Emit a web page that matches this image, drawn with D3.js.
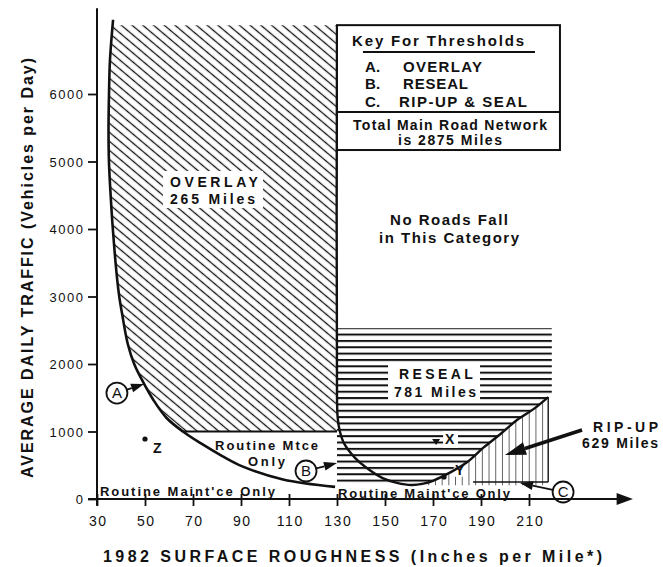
<!DOCTYPE html>
<html><head><meta charset="utf-8">
<script src="https://cdn.jsdelivr.net/npm/d3@7"></script>
<style>
body{margin:0;background:#fff}
svg{display:block}
text{font-family:"Liberation Sans",Arial,Helvetica,sans-serif;fill:#111}
</style>
</head><body>
<svg id="c" width="663" height="567"></svg>
<script>
// ---------- data ----------
const xTicks = [30, 50, 70, 90, 110, 130, 150, 170, 190, 210];
const yTicks = [0, 1000, 2000, 3000, 4000, 5000, 6000];
// Overlay threshold curve A (roughness, ADT)
const overlayCurve = [[36.7,7100],[35.4,6500],[35.0,6000],[34.8,5470],[35.0,4980],[35.8,4430],[36.6,4000],[38.3,3290],[39.3,2990],[40.4,2755],[42.8,2300],[45.5,2000],[49.4,1720],[53.5,1467],[59,1200],[65.8,1000],[73,830],[82,640],[90.8,480],[107.5,290],[129.2,180]];
// Reseal / rip-up threshold curve B-C
const resealCurve = [[130,7020],[130,1500],[130.3,1200],[131.2,1000],[133,820],[137.5,610],[142,470],[149,310],[155,240],[161,208],[166,228],[170,270],[177,390],[184,540],[191,760],[198,960],[205,1170],[212,1335],[218,1510]];
const ripStart = 9; // index where rising (rip-up) branch begins
const routineLevel = 1000;      // ADT boundary of overlay zone
const topADT = 7020;            // top of hatched area / key box
const resealTop = 2530;
const resealRight = 219.5;
const resealBottom = 250;
const ripBottom = 205;
const ripRight = 218;
const points = [{name:"Z", x:50, y:889}, {name:"Y", x:174.6, y:326}];
const xMarker = {x:171.3, y:815};
const keyTitle = "Key For Thresholds";
const keyItems = [["A.","OVERLAY",6326,79],["B.","RESEAL",6074,65],["C.","RIP-UP & SEAL",5807,128]];

// ---------- scales ----------
const sx = d3.scaleLinear().domain([30,130]).range([97,337]);
const sy = d3.scaleLinear().domain([0,6000]).range([499,94]);
const svg = d3.select("#c");
const defs = svg.append("defs");

// patterns
const pDiag = defs.append("pattern").attr("id","diag").attr("patternUnits","userSpaceOnUse")
  .attr("width",20).attr("height",6.9).attr("patternTransform","rotate(40)");
pDiag.append("line").attr("x1",0).attr("x2",20).attr("y1",3.45).attr("y2",3.45).attr("stroke","#111").attr("stroke-width",1.3);
const pH = defs.append("pattern").attr("id","horiz").attr("patternUnits","userSpaceOnUse")
  .attr("width",10).attr("height",6.35).attr("y",sy(resealTop)-1);
pH.append("line").attr("x1",0).attr("x2",10).attr("y1",1).attr("y2",1).attr("stroke","#111").attr("stroke-width",2);
const pV = defs.append("pattern").attr("id","vert").attr("patternUnits","userSpaceOnUse")
  .attr("width",6.7).attr("height",10).attr("x",sx(ripRight)+0.65);
pV.append("line").attr("x1",0).attr("x2",0).attr("y1",0).attr("y2",10).attr("stroke","#111").attr("stroke-width",1.3);

const line = d3.line().x(d=>sx(d[0])).y(d=>sy(d[1])).curve(d3.curveCatmullRom.alpha(0.5));
const P = (x,y)=>sx(x)+","+sy(y);

// ---------- overlay hatch ----------
defs.append("clipPath").attr("id","ovClip").append("rect")
  .attr("x",sx(30)).attr("y",sy(topADT)).attr("width",sx(130)-sx(30)).attr("height",sy(routineLevel)-sy(topADT));
svg.append("g").attr("clip-path","url(#ovClip)").append("path")
  .attr("d", line(overlayCurve)+"L"+P(130,180)+"L"+P(130,7200)+"Z")
  .attr("fill","url(#diag)");

// ---------- reseal hatch ----------
const rising = resealCurve.slice(ripStart);
const risingRev = rising.slice().reverse();
svg.append("path")
  .attr("d","M"+P(130,resealTop)+"L"+P(resealRight,resealTop)+"L"+P(resealRight,rising[rising.length-1][1])
     + line(risingRev).replace(/^M/,"L") + "L"+P(130,resealBottom)+"Z")
  .attr("fill","url(#horiz)");
// ---------- rip-up hatch ----------
svg.append("path")
  .attr("d", line(rising)+"L"+P(ripRight,ripBottom)+"L"+P(rising[0][0],ripBottom)+"Z")
  .attr("fill","url(#vert)");

// ---------- white label boxes ----------
const boxes = [[57.5,4859,99.2,4311],[151.25,2015,189.6,1467],[174.2,1007,180.4,756],[178.6,470,182.6,330]];
svg.selectAll("rect.wb").data(boxes).join("rect").attr("class","wb")
  .attr("x",d=>sx(d[0])).attr("y",d=>sy(d[1])).attr("width",d=>sx(d[2])-sx(d[0])).attr("height",d=>sy(d[3])-sy(d[1]))
  .attr("fill","#fff");

// ---------- curves ----------
svg.append("path").attr("d",line(overlayCurve)).attr("fill","none").attr("stroke","#111").attr("stroke-width",2.6);
svg.append("path").attr("d",line(resealCurve)).attr("fill","none").attr("stroke","#111").attr("stroke-width",2.4);
svg.append("line").attr("x1",sx(65.8)).attr("x2",sx(130)).attr("y1",sy(routineLevel)).attr("y2",sy(routineLevel))
  .attr("stroke","#111").attr("stroke-width",2);
svg.append("line").attr("x1",sx(ripRight)).attr("x2",sx(ripRight)).attr("y1",sy(1510)).attr("y2",sy(252))
  .attr("stroke","#111").attr("stroke-width",1.4);
svg.append("line").attr("x1",sx(186.7)).attr("x2",sx(ripRight)).attr("y1",sy(252)).attr("y2",sy(252))
  .attr("stroke","#111").attr("stroke-width",1.6);

// ---------- key box ----------
svg.append("rect").attr("x",sx(130)).attr("y",sy(topADT)).attr("width",sx(222.9)-sx(130)).attr("height",sy(5170)-sy(topADT))
  .attr("fill","#fff").attr("stroke","#111").attr("stroke-width",2);
svg.append("line").attr("x1",sx(130)).attr("x2",sx(222.9)).attr("y1",sy(5733)).attr("y2",sy(5733)).attr("stroke","#111").attr("stroke-width",2);
svg.append("line").attr("x1",sx(140.8)).attr("x2",sx(212.5)).attr("y1",sy(6622)).attr("y2",sy(6622)).attr("stroke","#111").attr("stroke-width",2.2);

function label(x,y,txt,size,len,anchor){
  const t = svg.append("text").attr("x",sx(x)).attr("y",sy(y)).attr("font-size",size).attr("font-weight","bold")
    .attr("text-anchor",anchor||"start").text(txt);
  if(len){t.attr("textLength",len).attr("lengthAdjust","spacing");}
  return t;
}
label(136.3,6704,keyTitle,15,172);
keyItems.forEach(k=>{ label(141.7,k[2],k[0],15,15); label(k[0]==="C."?155.8:157.5,k[2],k[1],15,k[3]); });
label(136.7,5467,"Total Main Road Network",14,194);
label(155.4,5244,"is 2875 Miles",14,104);
label(152.1,4059,"No Roads Fall",15,118);
label(147.5,3793,"in This Category",15,140);
label(60.4,4622,"OVERLAY",14,88);
label(60.4,4370,"265  Miles",14,85);
label(155.8,1778,"RESEAL",14,74);
label(153.75,1511,"781  Miles",14,82);
label(79.2,726,"Routine  Mtce",13,103);
label(92.9,489,"Only",13,37);
label(31.25,44,"Routine  Maint'ce  Only",13,175);
label(130.4,15,"Routine  Maint'ce  Only",13,172);
label(236.7,993,"RIP-UP",14,65);
label(232.1,756,"629  Miles",14,76);
label(175,815,"X",14);
label(179.2,356,"Y",14);
label(53.3,681,"Z",14);

// points
svg.selectAll("circle.pt").data(points).join("circle").attr("class","pt")
  .attr("cx",d=>sx(d.x)).attr("cy",d=>sy(d.y)).attr("r",2.6).attr("fill","#111");
svg.append("path").attr("d",`M${sx(xMarker.x)-4},${sy(xMarker.y)-5}L${sx(xMarker.x)+4},${sy(xMarker.y)-5}L${sx(xMarker.x)},${sy(xMarker.y)+1}Z`).attr("fill","#111");

// ---------- arrows & circled letters ----------
function arrow(x1,y1,x2,y2,hl,hw,w){
  const a1=sx(x1),b1=sy(y1),a2=sx(x2),b2=sy(y2);
  const L=Math.hypot(a2-a1,b2-b1), ux=(a2-a1)/L, uy=(b2-b1)/L;
  const bx=a2-ux*hl, by=b2-uy*hl;
  svg.append("line").attr("x1",a1).attr("y1",b1).attr("x2",bx).attr("y2",by).attr("stroke","#111").attr("stroke-width",w);
  svg.append("path").attr("d",`M${a2},${b2}L${bx-uy*hw/2},${by+ux*hw/2}L${bx+uy*hw/2},${by-ux*hw/2}Z`).attr("fill","#111");
}
const circ = [["A",38.3,1570,49.6,1704],["B",117.1,415,130,533],["C",224.2,104,206.25,237]];
circ.forEach(c=>{
  const cx=sx(c[1]), cy=sy(c[2]);
  const tx=sx(c[3]), ty=sy(c[4]);
  const L=Math.hypot(tx-cx,ty-cy);
  arrow(c[1]+ (tx-cx)/L*10.5/2.4, c[2] - (ty-cy)/L*10.5*1000/67.5, c[3], c[4], 13, 9, 1.8);
  svg.append("circle").attr("cx",cx).attr("cy",cy).attr("r",10.5).attr("fill","#fff").attr("stroke","#111").attr("stroke-width",1.8);
  svg.append("text").attr("x",cx).attr("y",cy+5).attr("text-anchor","middle").attr("font-size",15).text(c[0]);
});
arrow(232.1,1022,200,652,21,13,3.5);

// ---------- axes ----------
const xAx = svg.append("g").attr("transform",`translate(0,${sy(0)})`)
  .call(d3.axisBottom(sx).tickValues(xTicks).tickSize(7).tickSizeOuter(0).tickFormat(d3.format("d")));
xAx.select(".domain").remove();
xAx.selectAll(".tick line").attr("y1",-5).attr("y2",7).attr("stroke","#111").attr("stroke-width",1.8);
xAx.selectAll(".tick text").attr("y",27).attr("dy",0).attr("font-size",14).attr("letter-spacing",1.5)
  .attr("dx",0.75).attr("fill","#111").attr("font-family",null);
const yAx = svg.append("g").attr("transform",`translate(${sx(30)},0)`)
  .call(d3.axisLeft(sy).tickValues(yTicks).tickSize(9).tickSizeOuter(0).tickFormat(d3.format("d")));
yAx.select(".domain").remove();
yAx.selectAll(".tick line").attr("stroke","#111").attr("stroke-width",1.8);
yAx.selectAll(".tick text").attr("x",-12.5).attr("dy","0.36em").attr("font-size",13).attr("letter-spacing",1.5)
  .attr("fill","#111").attr("font-family",null);

svg.append("line").attr("x1",sx(30)).attr("x2",sx(30)).attr("y1",sy(7270)).attr("y2",sy(-100)).attr("stroke","#111").attr("stroke-width",2);
svg.append("line").attr("x1",sx(26.3)).attr("x2",sx(247)).attr("y1",sy(0)).attr("y2",sy(0)).attr("stroke","#111").attr("stroke-width",2);
svg.append("path").attr("d",`M${sx(253.3)},${sy(0)}L${sx(246.5)},${sy(0)-6}L${sx(246.5)},${sy(0)+6}Z`).attr("fill","#111");

svg.append("text").attr("x",103).attr("y",562).attr("font-size",16).attr("font-weight","bold")
  .attr("textLength",499).attr("lengthAdjust","spacing").text("1982 SURFACE ROUGHNESS (Inches per Mile*)");
svg.append("text").attr("transform","translate(33,478) rotate(-90)").attr("font-size",16).attr("font-weight","bold")
  .attr("textLength",420).attr("lengthAdjust","spacing").text("AVERAGE DAILY TRAFFIC (Vehicles per Day)");
</script>
</body></html>
